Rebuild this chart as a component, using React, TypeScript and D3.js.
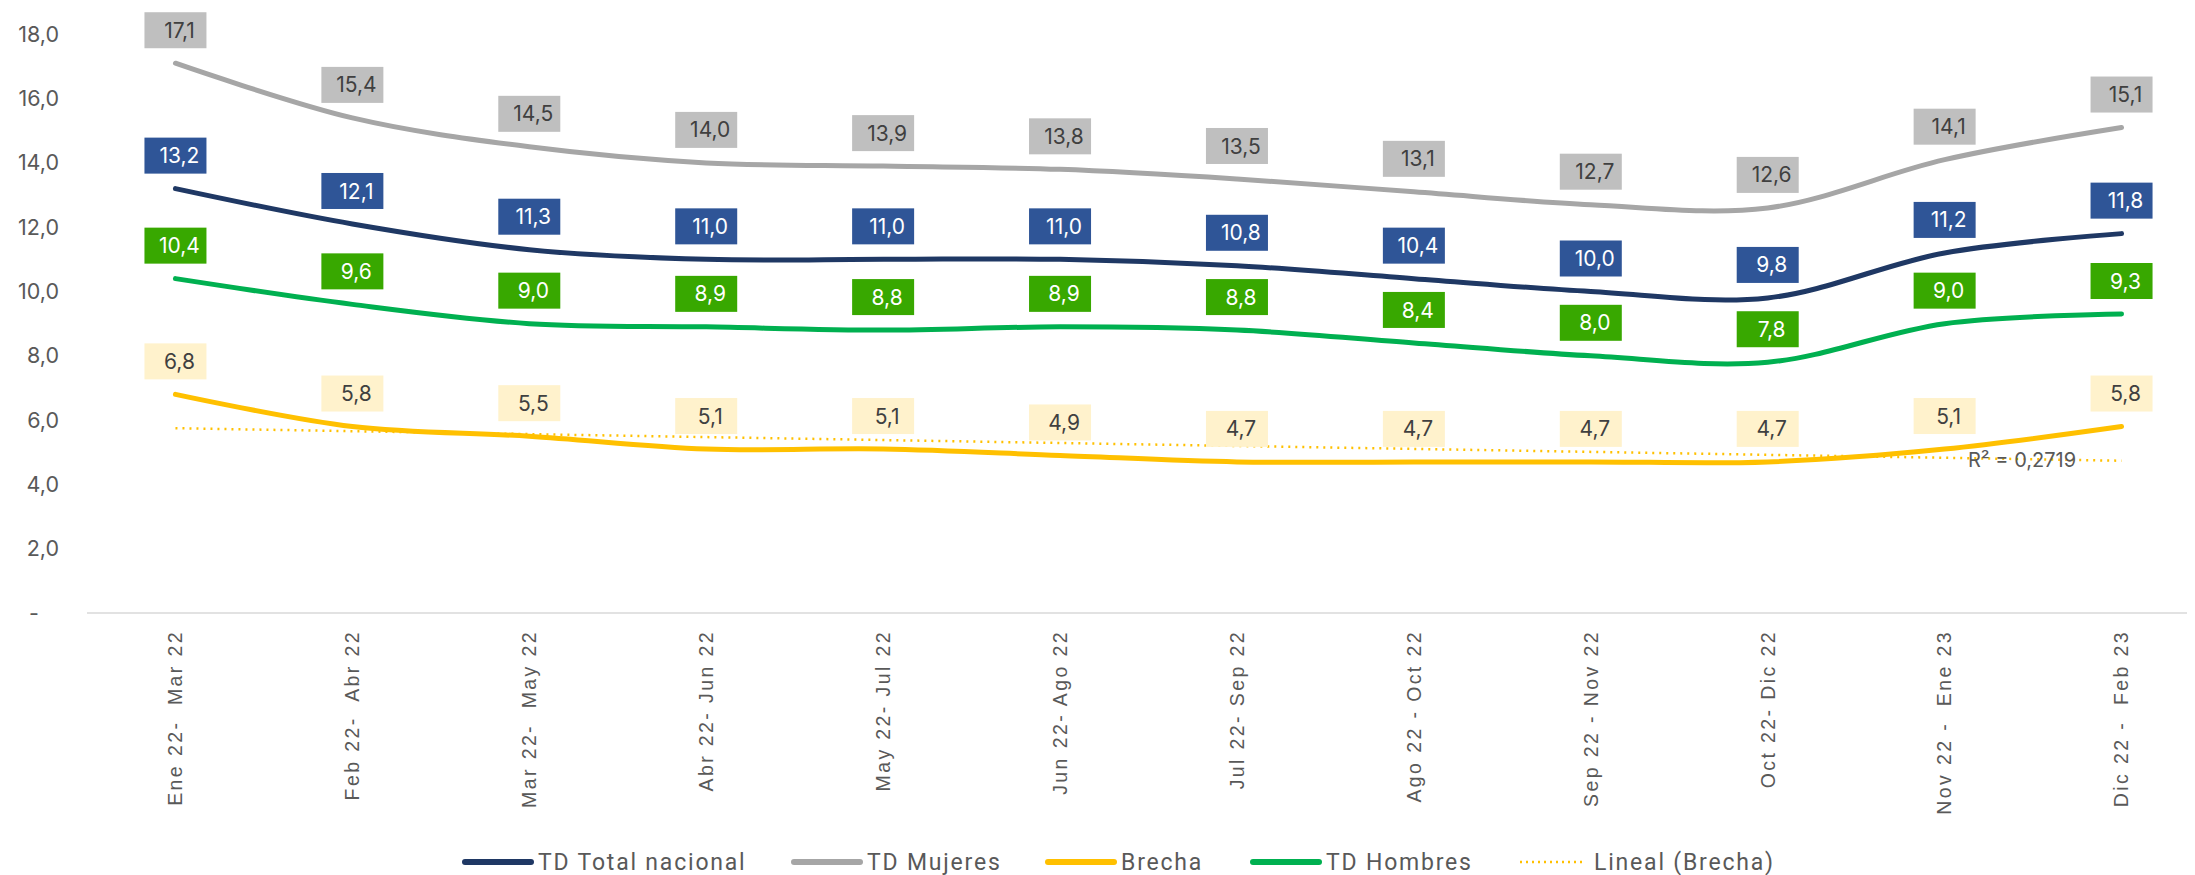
import React from 'react';
import * as d3 from 'd3';

// periods (x axis)
const periods = [
  'Ene 22-  Mar 22', 'Feb 22-  Abr 22', 'Mar 22-  May 22', 'Abr 22- Jun 22',
  'May 22- Jul 22', 'Jun 22- Ago 22', 'Jul 22- Sep 22', 'Ago 22 - Oct 22',
  'Sep 22 - Nov 22', 'Oct 22- Dic 22', 'Nov 22 -  Ene 23', 'Dic 22 -  Feb 23',
];

const tdTotal = [13.2, 12.1, 11.3, 11.0, 11.0, 11.0, 10.8, 10.4, 10.0, 9.8, 11.2, 11.8];
const tdMujeres = [17.1, 15.4, 14.5, 14.0, 13.9, 13.8, 13.5, 13.1, 12.7, 12.6, 14.1, 15.1];
const tdHombres = [10.4, 9.6, 9.0, 8.9, 8.8, 8.9, 8.8, 8.4, 8.0, 7.8, 9.0, 9.3];
const brecha = [6.8, 5.8, 5.5, 5.1, 5.1, 4.9, 4.7, 4.7, 4.7, 4.7, 5.1, 5.8];

const yTicks = [0, 2, 4, 6, 8, 10, 12, 14, 16, 18];
const rSquared = 'R² = 0,2719';

const W = 2195;
const H = 875;

const fmt = (v: number) => v.toFixed(1).replace('.', ',');

const series = [
  { name: 'TD Mujeres', values: tdMujeres, line: '#A6A6A6', box: '#BFBFBF', text: '#404040' },
  { name: 'TD Total nacional', values: tdTotal, line: '#1F3864', box: '#2F5597', text: '#FFFFFF' },
  { name: 'TD Hombres', values: tdHombres, line: '#00B050', box: '#38A800', text: '#FFFFFF' },
  { name: 'Brecha', values: brecha, line: '#FFC000', box: '#FFF2CC', text: '#404040' },
];

// legend order as in the original
const legendItems = [
  { name: 'TD Total nacional', color: '#1F3864', dotted: false, x: 462 },
  { name: 'TD Mujeres', color: '#A6A6A6', dotted: false, x: 791 },
  { name: 'Brecha', color: '#FFC000', dotted: false, x: 1045 },
  { name: 'TD Hombres', color: '#00B050', dotted: false, x: 1250 },
  { name: 'Lineal (Brecha)', color: '#FFC000', dotted: true, x: 1518 },
];

export default function App() {
  const x = d3.scaleBand<string>().domain(periods).range([87, 2210]).padding(0);
  const cx = (i: number) => (x(periods[i]) as number) + x.bandwidth() / 2;
  const y = d3.scaleLinear().domain([0, 18]).range([613, 34.3]);

  const line = d3.line<number>()
    .x((_, i) => cx(i))
    .y(d => y(d))
    .curve(d3.curveCatmullRom.alpha(0.5));

  // linear trend of Brecha (least squares over 1..n)
  const n = brecha.length;
  const xs = d3.range(1, n + 1);
  const mx = d3.mean(xs) as number;
  const my = d3.mean(brecha) as number;
  const slope = d3.sum(xs, (v, i) => (v - mx) * (brecha[i] - my)) / d3.sum(xs, v => (v - mx) ** 2);
  const icpt = my - slope * mx;
  const trend = [0, n - 1].map(i => [cx(i), y(icpt + slope * (i + 1))] as [number, number]);

  const boxW = 62;
  const boxH = 36;

  return (
    <svg width={W} height={H} style={{ position: 'absolute', left: 0, top: 0, background: '#fff' }}>
      {/* y axis labels */}
      {yTicks.map(t => (
        <text key={t} x={t === 0 ? 34 : 59} y={y(t)} dy="0.35em"
          textAnchor={t === 0 ? 'middle' : 'end'}
          fontFamily="Inter, 'Noto Sans', sans-serif" fontSize={21.5} fill="#595959">
          {t === 0 ? '-' : fmt(t)}
        </text>
      ))}

      {/* x axis line */}
      <line x1={87} x2={2187} y1={y(0)} y2={y(0)} stroke="#D9D9D9" strokeWidth={1.5} />

      {/* x tick labels */}
      {periods.map((p, i) => (
        <text key={p} transform={`translate(${cx(i)},630) rotate(-90)`}
          textAnchor="end" dy="0.35em" fontFamily="'Liberation Sans', Arial, sans-serif"
          fontSize={19.5} letterSpacing={2.4} fill="#595959" style={{ whiteSpace: 'pre' }}>
          {p}
        </text>
      ))}

      {/* trend line */}
      <path d={d3.line()(trend) as string} fill="none" stroke="#FFC000" strokeWidth={2.5} strokeDasharray="2 5" />

      {/* series lines */}
      {series.map(s => (
        <path key={s.name} d={line(s.values) as string} fill="none" stroke={s.line}
          strokeWidth={5} strokeLinecap="round" strokeLinejoin="round" />
      ))}

      <text x={1968} y={460} dy="0.35em" fontFamily="Inter, 'Noto Sans', sans-serif" fontSize={20} fill="#595959">
        {rSquared}
      </text>

      {/* data labels */}
      {series.map(s => (
        <g key={s.name + '-labels'}>
          {s.values.map((v, i) => {
            const bx = cx(i) - boxW / 2;
            const by = y(v) - 15 - boxH;
            return (
              <g key={i}>
                <rect x={bx} y={by} width={boxW} height={boxH} fill={s.box} />
                <text x={cx(i) + 4} y={by + boxH / 2} dy="0.36em" textAnchor="middle"
                  fontFamily="Inter, 'Noto Sans', sans-serif" fontSize={21} fill={s.text}>
                  {fmt(v)}
                </text>
              </g>
            );
          })}
        </g>
      ))}

      {/* legend */}
      {legendItems.map(l => (
        <g key={l.name}>
          {l.dotted ? (
            <line x1={l.x + 2} x2={l.x + 68} y1={862} y2={862} stroke={l.color} strokeWidth={2.5} strokeDasharray="2 4" />
          ) : (
            <line x1={l.x + 3} x2={l.x + 69} y1={862} y2={862} stroke={l.color} strokeWidth={6} strokeLinecap="round" />
          )}
          <text x={l.x + 76} y={862} dy="0.35em" fontFamily="Roboto, sans-serif" fontSize={23}
            letterSpacing={1.8} fill="#595959">
            {l.name}
          </text>
        </g>
      ))}
    </svg>
  );
}
